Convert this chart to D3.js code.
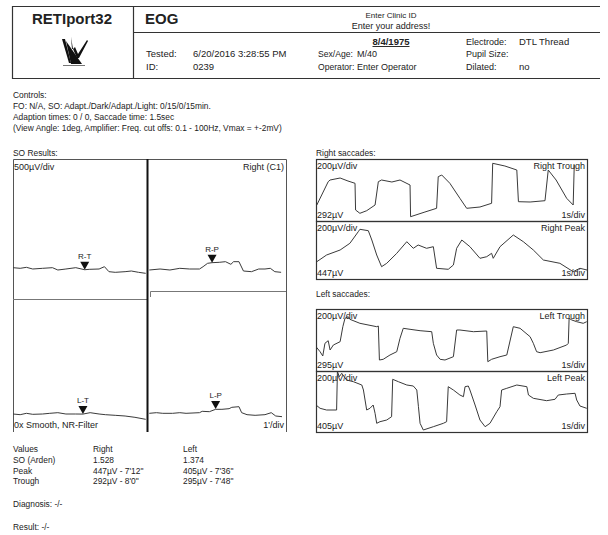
<!DOCTYPE html>
<html lang="en">
<head>
<meta charset="UTF-8">
<title>EOG report</title>
<script src="https://cdn.jsdelivr.net/npm/d3@7"></script>
<style>
  body { margin: 0; background: #fff; }
  svg text { font-family: "Liberation Sans", Arial, sans-serif; fill: #222; }
</style>
</head>
<body>
<div id="chart"></div>
<script>
// ---- data ----
// SO results: [minute, µV]; dark phase 0-15 min, light phase 15-30 min
var soRightDark = [[0,337],[0.8,323],[1.5,345],[2.2,308],[3.3,323],[4.4,337],[5.0,286],[5.9,308],[7.0,337],[8.0,292],[8.5,301],[9.6,308],[10.2,359],[10.7,249],[11.4,235],[12.5,249],[13.2,264],[14.0,235],[14.8,213]];
var soRightLight = [[15.2,286],[16.4,308],[17.5,286],[18.6,323],[19.7,308],[20.8,308],[21.2,359],[21.7,433],[22.2,447],[23.0,455],[23.7,469],[24.3,411],[24.6,469],[25.2,469],[25.7,264],[26.6,249],[27.4,308],[28.1,308],[28.7,323],[29.2,249],[29.9,235]];
var soLeftDark = [[0,297],[0.8,282],[1.5,312],[2.2,290],[3.3,297],[4.1,312],[5.0,326],[5.9,297],[7.0,297],[7.8,295],[8.6,326],[9.6,297],[10.3,282],[11.4,268],[12.5,253],[13.6,224],[14.8,180]];
var soLeftLight = [[15.2,312],[16.0,326],[16.7,312],[17.8,312],[18.6,326],[19.3,312],[20.8,326],[21.1,356],[21.9,348],[22.6,400],[23.3,400],[24.1,414],[24.4,444],[25.2,458],[25.5,326],[26.1,282],[27.0,268],[28.1,282],[28.8,326],[29.3,253],[30.0,238]];
// markers: [label, minute, µV, eye]
var soMarkers = [["R-T",8.0,292,"R"],["R-P",22.2,447,"R"],["L-T",7.8,295,"L"],["L-P",22.6,405,"L"]];

// saccade sweeps: [second, µV]
var rightTrough = [[0.03,160],[0.45,393],[0.52,410],[0.89,430],[1.18,400],[1.44,377],[1.46,110],[1.62,77],[1.87,103],[2.18,160],[2.30,393],[2.42,410],[2.80,390],[3.10,410],[3.47,360],[3.49,43],[4.02,90],[4.45,127],[4.51,443],[4.64,460],[4.94,377],[5.31,227],[5.56,127],[6.05,140],[6.48,177],[6.52,577],[6.97,550],[7.41,510],[7.47,193],[7.90,190],[8.45,203],[8.57,510],[8.86,410],[9.25,227],[9.49,160],[9.53,560]];
var rightPeak = [[0.03,173],[0.39,240],[0.89,290],[1.25,357],[1.56,473],[1.62,497],[1.93,483],[2.06,390],[2.24,240],[2.42,123],[2.61,157],[2.98,257],[3.35,373],[3.59,307],[3.77,340],[4.08,307],[4.33,323],[4.45,107],[4.88,97],[5.07,140],[5.19,307],[5.38,390],[5.68,323],[6.05,207],[6.30,223],[6.48,257],[6.54,207],[6.79,323],[7.28,440],[7.65,373],[8.02,290],[8.39,190],[9.00,157],[9.49,73],[9.74,107],[10.0,90]];
var leftTrough = [[0,243],[0.15,193],[0.25,150],[0.33,277],[0.45,303],[0.52,210],[0.64,260],[0.89,293],[0.99,443],[1.07,527],[1.19,543],[1.25,517],[1.62,477],[2.24,443],[2.30,450],[2.34,110],[2.48,117],[2.73,160],[2.98,193],[3.10,327],[3.22,427],[3.47,417],[3.84,403],[4.27,393],[4.33,277],[4.45,160],[4.58,117],[4.76,110],[5.07,143],[5.19,410],[5.31,410],[5.81,393],[6.30,400],[6.34,93],[6.48,117],[6.79,143],[7.04,160],[7.28,443],[7.53,427],[7.90,343],[8.02,277],[8.14,193],[8.27,183],[8.76,210],[9.25,260],[9.31,277],[9.34,527],[9.44,510],[9.62,493],[9.86,477],[9.99,493]];
var leftPeak = [[0,270],[0.15,237],[0.39,220],[0.76,220],[0.79,605],[0.86,553],[0.95,587],[1.13,520],[1.38,503],[1.69,470],[1.75,420],[1.87,220],[1.99,237],[2.11,270],[2.18,187],[2.24,87],[2.36,103],[2.61,120],[2.79,153],[2.83,527],[3.04,503],[3.35,470],[3.59,460],[3.72,420],[3.78,253],[3.84,87],[3.96,20],[4.33,53],[4.70,87],[4.82,103],[4.88,453],[5.07,420],[5.31,370],[5.44,353],[5.50,453],[5.62,460],[5.68,420],[5.87,270],[6.05,120],[6.24,53],[6.42,87],[6.67,203],[6.79,253],[6.85,420],[7.04,437],[7.41,470],[7.78,453],[7.84,370],[8.02,337],[8.51,313],[8.82,327],[8.94,370],[9.25,380],[9.56,387],[9.62,320],[9.74,260],[9.99,237]];

var controlLines = ["Controls:",
  "FO: N/A, SO: Adapt./Dark/Adapt./Light: 0/15/0/15min.",
  "Adaption times: 0 / 0,  Saccade time: 1.5sec",
  "(View Angle: 1deg, Amplifier: Freq. cut offs: 0.1 - 100Hz, Vmax = +-2mV)"];
var valueRows = [["Values","Right","Left"],
  ["SO (Arden)","1.528","1.374"],
  ["Peak","447µV - 7'12\"","405µV - 7'36\""],
  ["Trough","292µV - 8'0\"","295µV - 7'48\""]];

var width = 608, height = 535;
var svg = d3.select("#chart").append("svg")
    .attr("width", width)
    .attr("height", height);

var line = d3.line();
var stroke = "#3a3a3a";

// ---- header ----
var hdr = svg.append("g").attr("stroke", "#333").attr("stroke-width", 1.2);
hdr.append("line").attr("x1", 12).attr("x2", 600).attr("y1", 6.5).attr("y2", 6.5);
hdr.append("line").attr("x1", 12).attr("x2", 600).attr("y1", 78.5).attr("y2", 78.5);
hdr.append("line").attr("x1", 12.5).attr("x2", 12.5).attr("y1", 6).attr("y2", 79);
hdr.append("line").attr("x1", 133.5).attr("x2", 133.5).attr("y1", 6).attr("y2", 79);
hdr.append("line").attr("x1", 133).attr("x2", 600).attr("y1", 32.5).attr("y2", 32.5);

svg.append("text").attr("x", 72).attr("y", 24).attr("text-anchor", "middle")
    .style("font-size", "15px").style("font-weight", "bold").text("RETIport32");
svg.append("text").attr("x", 145).attr("y", 24)
    .style("font-size", "15px").style("font-weight", "bold").text("EOG");

// logo
var logo = svg.append("g").attr("transform", "translate(60,37)").attr("fill", "#111");
logo.append("path").attr("d", "M2,2 L5,2 L11,26 L9,26 Z");
logo.append("path").attr("d", "M6,4 L22,27 L11,27 Z");
logo.append("path").attr("d", "M15,10 L18,17 L27,3 L28,4 L19,21 L17,21 L13,12 Z");
logo.append("path").attr("d", "M11,0 L13,12 L12,12 Z");
logo.append("rect").attr("x", 3).attr("y", 28).attr("width", 22).attr("height", 1).attr("fill", "#777");

var small = function(x, y, t, anchor, size) {
  return svg.append("text").attr("x", x).attr("y", y)
      .attr("text-anchor", anchor || "start")
      .style("font-size", (size || 9.5) + "px").text(t);
};
small(391, 18, "Enter Clinic ID", "middle", 8);
small(391, 29, "Enter your address!", "middle", 9);
small(391, 45, "8/4/1975", "middle", 9.5).style("font-weight", "bold").style("text-decoration", "underline");
small(146, 57, "Tested:"); small(193, 57, "6/20/2016 3:28:55 PM");
small(146, 70, "ID:"); small(193, 70, "0239");
small(318, 57, "Sex/Age:", "start", 8.6); small(357, 57, "M/40", "start", 9);
small(318, 70, "Operator:", "start", 8.6); small(357, 70, "Enter Operator", "start", 9);
small(466, 45, "Electrode:", "start", 9); small(519, 45, "DTL Thread");
small(466, 57, "Pupil Size:", "start", 9);
small(466, 70, "Dilated:", "start", 9); small(519, 70, "no");

// ---- controls ----
controlLines.forEach(function(t, i) {
  small(13, 98 + i * 11.1, t, "start", 8.4);
});

// ---- SO results ----
small(13, 156, "SO Results:", "start", 8.4);
var so = {x0: 13, x1: 286, y0: 159, y1: 432, mid: 147.5};
var sg = svg.append("g").attr("fill", "none");
sg.append("path").attr("stroke", "#555")
    .attr("d", "M" + (so.x0 + 0.5) + "," + so.y1 + "V" + (so.y0 + 0.5) + "H" + (so.x1 + 0.5) + "V" + so.y1);
sg.append("line").attr("stroke", "#777").attr("x1", so.x0).attr("x2", so.mid).attr("y1", 299.5).attr("y2", 299.5);
sg.append("path").attr("stroke", "#777").attr("d", "M150.5,297V291.5H" + so.x1);

var soX = d3.scaleLinear().domain([0, 30]).range([so.x0, 282]);
var soYR = d3.scaleLinear().domain([0, 3000]).range([283, 283 - 3000 / 22]);
var soYL = d3.scaleLinear().domain([0, 3000]).range([427.5, 427.5 - 3000 / 22]);

[[soRightDark, soYR], [soRightLight, soYR], [soLeftDark, soYL], [soLeftLight, soYL]].forEach(function(s) {
  sg.append("path").attr("stroke", stroke).attr("stroke-width", 1)
      .attr("d", line.x(function(d) { return soX(d[0]); }).y(function(d) { return s[1](d[1]); })(s[0]));
});
sg.append("line").attr("stroke", "#111").attr("stroke-width", 2)
    .attr("x1", so.mid).attr("x2", so.mid).attr("y1", so.y0).attr("y2", so.y1);

var mk = svg.append("g").selectAll("g").data(soMarkers).enter().append("g")
    .attr("transform", function(d) {
      var y = d[3] === "R" ? soYR(d[2]) : soYL(d[2]);
      return "translate(" + soX(d[1]) + "," + y + ")";
    });
mk.append("path").attr("d", "M-4.5,-8H4.5L0,0Z").attr("fill", "#111");
mk.append("text").attr("y", -11).attr("text-anchor", "middle").style("font-size", "8px").text(function(d) { return d[0]; });

small(14, 170, "500µV/div", "start", 9);
small(284, 170, "Right (C1)", "end", 9);
small(14, 428, "0x Smooth, NR-Filter", "start", 9);
small(284, 428, "1'/div", "end", 9);

// ---- saccades ----
var sacX = d3.scaleLinear().domain([0, 10]).range([316, 587]);
var panels = [
  {data: rightTrough, top: 159, bottom: 221, name: "Right Trough", amp: "292µV"},
  {data: rightPeak, top: 221, bottom: 279, name: "Right Peak", amp: "447µV"},
  {data: leftTrough, top: 309, bottom: 371, name: "Left Trough", amp: "295µV"},
  {data: leftPeak, top: 371, bottom: 432, name: "Left Peak", amp: "405µV"}
];
small(316, 156, "Right saccades:", "start", 8.4);
small(316, 297, "Left saccades:", "start", 8.4);

panels.forEach(function(p, i) {
  var y = d3.scaleLinear().domain([0, (p.bottom - p.top) * 10]).range([p.bottom, p.top]);
  var g = svg.append("g");
  g.append("clipPath").attr("id", "clip" + i).append("rect")
      .attr("x", 316).attr("y", p.top).attr("width", 271).attr("height", p.bottom - p.top);
  g.append("text").attr("x", 317).attr("y", p.top + 10).style("font-size", "9px").text("200µV/div");
  g.append("text").attr("x", 585).attr("y", p.top + 10).attr("text-anchor", "end").style("font-size", "9px").text(p.name);
  g.append("text").attr("x", 317).attr("y", p.bottom - 3).style("font-size", "9px").text(p.amp);
  g.append("text").attr("x", 585).attr("y", p.bottom - 3).attr("text-anchor", "end").style("font-size", "9px").text("1s/div");
  g.append("path").attr("fill", "none").attr("stroke", stroke).attr("stroke-width", 1)
      .attr("clip-path", "url(#clip" + i + ")")
      .attr("d", line.x(function(d) { return sacX(d[0]); }).y(function(d) { return y(d[1]); })(p.data));
  g.append("rect").attr("x", 316.5).attr("y", p.top + 0.5).attr("width", 271).attr("height", p.bottom - p.top)
      .attr("fill", "none").attr("stroke", "#333").attr("stroke-width", 1.2);
});

// ---- values table ----
valueRows.forEach(function(r, i) {
  var yy = 452 + i * 10.8;
  small(13, yy, r[0], "start", 8.4);
  small(93, yy, r[1], "start", 8.4);
  small(183, yy, r[2], "start", 8.4);
});
small(13, 507, "Diagnosis: -/-", "start", 8.4);
small(13, 530, "Result: -/-", "start", 8.4);
</script>
</body>
</html>
